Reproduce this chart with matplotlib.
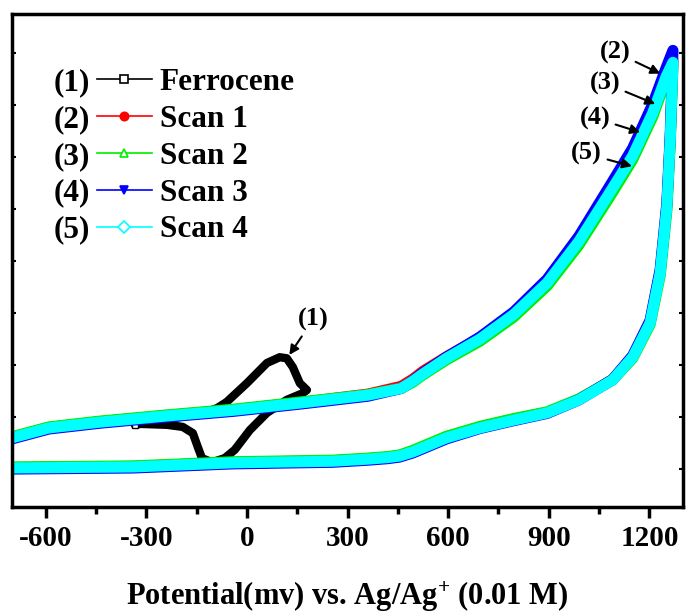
import numpy as np
import matplotlib.pyplot as plt
from matplotlib.lines import Line2D

plt.rcParams['font.family'] = 'Liberation Serif'
plt.rcParams['font.weight'] = 'bold'
plt.rcParams['axes.unicode_minus'] = False
plt.rcParams['mathtext.fontset'] = 'custom'
plt.rcParams['mathtext.rm'] = 'Liberation Serif:bold'
plt.rcParams['mathtext.bf'] = 'Liberation Serif:bold'
plt.rcParams['mathtext.default'] = 'bf'

# ferrocene loop: potential (mV) and current (arb. units)
fc_e = [-334, -238, -140, -89, -60, 0, 60, 98, 119, 137, 158, 179, 167, 119,
        60, 9, -36, -66, -104, -134, -146, -161, -191, -238, -328]
fc_i = [0.85, 0.96, 1.06, 1.17, 1.29, 1.65, 2.04, 2.15, 2.13, 1.96, 1.65, 1.52,
        1.46, 1.33, 1.08, 0.75, 0.37, 0.21, 0.13, 0.21, 0.42, 0.69, 0.81, 0.85, 0.87]

# scans: forward branch up to 1270 mV, then the return branch
fwd_e = [-700, -590, -440, -240, -40, 160, 360, 460, 495, 525, 595, 695, 795, 895,
         990, 1090, 1150, 1210, 1250, 1270]
rev_e = [1270, 1262, 1252, 1232, 1202, 1150, 1090, 990, 895, 795, 695, 595, 495,
         455, 420, 360, 255, -40, -340, -700]

scan1_fwd = [0.61, 0.80, 0.91, 1.03, 1.14, 1.28, 1.44, 1.59, 1.73, 1.88, 2.16, 2.52,
             2.98, 3.59, 4.39, 5.42, 6.05, 6.88, 7.60, 7.86]
scan1_rev = [7.86, 6.36, 5.06, 3.79, 2.83, 2.16, 1.72, 1.34, 1.09, 0.96, 0.81, 0.62,
             0.34, 0.26, 0.23, 0.20, 0.16, 0.13, 0.05, 0.03]
scan2_fwd = [0.62, 0.81, 0.92, 1.04, 1.15, 1.29, 1.43, 1.55, 1.67, 1.81, 2.10, 2.46,
             2.92, 3.52, 4.31, 5.32, 5.95, 6.78, 7.50, 7.78]
scan2_rev = [7.78, 6.26, 4.98, 3.72, 2.78, 2.13, 1.71, 1.35, 1.10, 0.97, 0.82, 0.63,
             0.36, 0.27, 0.24, 0.21, 0.17, 0.14, 0.06, 0.04]
scan3_fwd = [0.58, 0.77, 0.88, 1.00, 1.11, 1.25, 1.40, 1.55, 1.70, 1.85, 2.15, 2.54,
             3.02, 3.65, 4.48, 5.53, 6.17, 7.02, 7.72, 8.05]
scan3_rev = [8.05, 6.42, 5.12, 3.84, 2.86, 2.18, 1.72, 1.33, 1.07, 0.93, 0.78, 0.58,
             0.31, 0.23, 0.20, 0.17, 0.13, 0.10, 0.02, 0.00]
scan4_fwd = [0.60, 0.79, 0.90, 1.02, 1.13, 1.27, 1.42, 1.55, 1.69, 1.83, 2.13, 2.50,
             2.97, 3.58, 4.38, 5.40, 6.02, 6.85, 7.55, 7.82]
scan4_rev = [7.82, 6.33, 5.04, 3.77, 2.81, 2.15, 1.71, 1.33, 1.08, 0.94, 0.79, 0.60,
             0.33, 0.25, 0.22, 0.19, 0.15, 0.12, 0.04, 0.02]

labels = ['Ferrocene', 'Scan 1', 'Scan 2', 'Scan 3', 'Scan 4']
colors = ['black', 'red', '#00ee00', 'blue', 'cyan']
markers = ['s', 'o', '^', 'v', 'D']
filled = [False, True, False, True, False]
tags = ['(1)', '(2)', '(3)', '(4)', '(5)']

fig = plt.figure(figsize=(6.86, 6.13), dpi=100)
ax = fig.add_axes([12 / 686, 106 / 613, 671 / 686, 493 / 613])

ax.plot(fc_e, fc_i, color='black', lw=6, solid_capstyle='round', solid_joinstyle='round')
ax.plot(fc_e[0], fc_i[0], 's', ms=5, mfc='white', mec='black', mew=1)

scans = [(scan1_fwd, scan1_rev), (scan2_fwd, scan2_rev),
         (scan3_fwd, scan3_rev), (scan4_fwd, scan4_rev)]
for (f, r), c in zip(scans, colors[1:]):
    ax.plot(fwd_e + rev_e, f + r, color=c, lw=8,
            solid_capstyle='round', solid_joinstyle='round')

ax.set_xlim(-700, 1300)
ax.set_ylim(-0.73, 8.75)
ax.set_xticks(np.arange(-600, 1201, 300))
ax.set_xticks(np.arange(-450, 1300, 300), minor=True)
ax.set_yticks(np.arange(0, 9))
ax.set_yticklabels([])
ax.tick_params(axis='x', which='major', direction='out', length=8, width=2.5,
               labelsize=21, pad=5)
ax.tick_params(axis='x', which='minor', direction='out', length=5, width=2.5)
ax.tick_params(axis='y', which='major', direction='in', length=3, width=1.5,
               left=True, right=True)
for s in ax.spines.values():
    s.set_linewidth(2.5)
for t in ax.get_xticklabels():
    t.set_fontweight('bold')

ax.set_xlabel('Potential(mv) vs. Ag/Ag$^{+}$ (0.01 M)', fontsize=22,
              fontweight='bold', labelpad=20)

# annotations
ax.annotate('(1)', xy=(122, 2.15), xytext=(197, 2.87), fontsize=19, fontweight='bold',
            ha='center', va='center',
            arrowprops=dict(arrowstyle='-|>', color='k', lw=1.5, mutation_scale=14))
ann = [((1240, 7.58), (1097, 8.02)), ((1225, 7.0), (1067, 7.42)),
       ((1180, 6.46), (1037, 6.75)), ((1156, 5.81), (1013, 6.06))]
for tag, (tip, txt) in zip(tags[1:], ann):
    ax.annotate(tag, xy=tip, xytext=txt, fontsize=19, fontweight='bold',
                ha='center', va='center',
                arrowprops=dict(arrowstyle='-|>', color='k', lw=1.5, mutation_scale=14))

handles = []
for c, m, fl in zip(colors, markers, filled):
    handles.append(Line2D([], [], color=c, lw=1.2, marker=m, ms=6,
                          mfc=c if fl else 'white', mec=c, mew=1.2))
leg = ax.legend(handles, labels, loc='upper left', bbox_to_anchor=(0.1267, 0.89),
                frameon=False, fontsize=22.5, handlelength=1.75, handletextpad=0.25,
                labelspacing=0.25, borderpad=0, borderaxespad=0)
for t in leg.get_texts():
    t.set_fontweight('bold')

fig.canvas.draw()
H = fig.get_figheight() * fig.dpi
W = fig.get_figwidth() * fig.dpi
for t, tag in zip(leg.get_texts(), tags):
    bb = t.get_window_extent()
    fig.text(90 / W, (bb.y0 + bb.y1) / 2 / H, tag, fontsize=22.5, fontweight='bold',
             ha='right', va='center')

fig.savefig('out.png', dpi=100)
